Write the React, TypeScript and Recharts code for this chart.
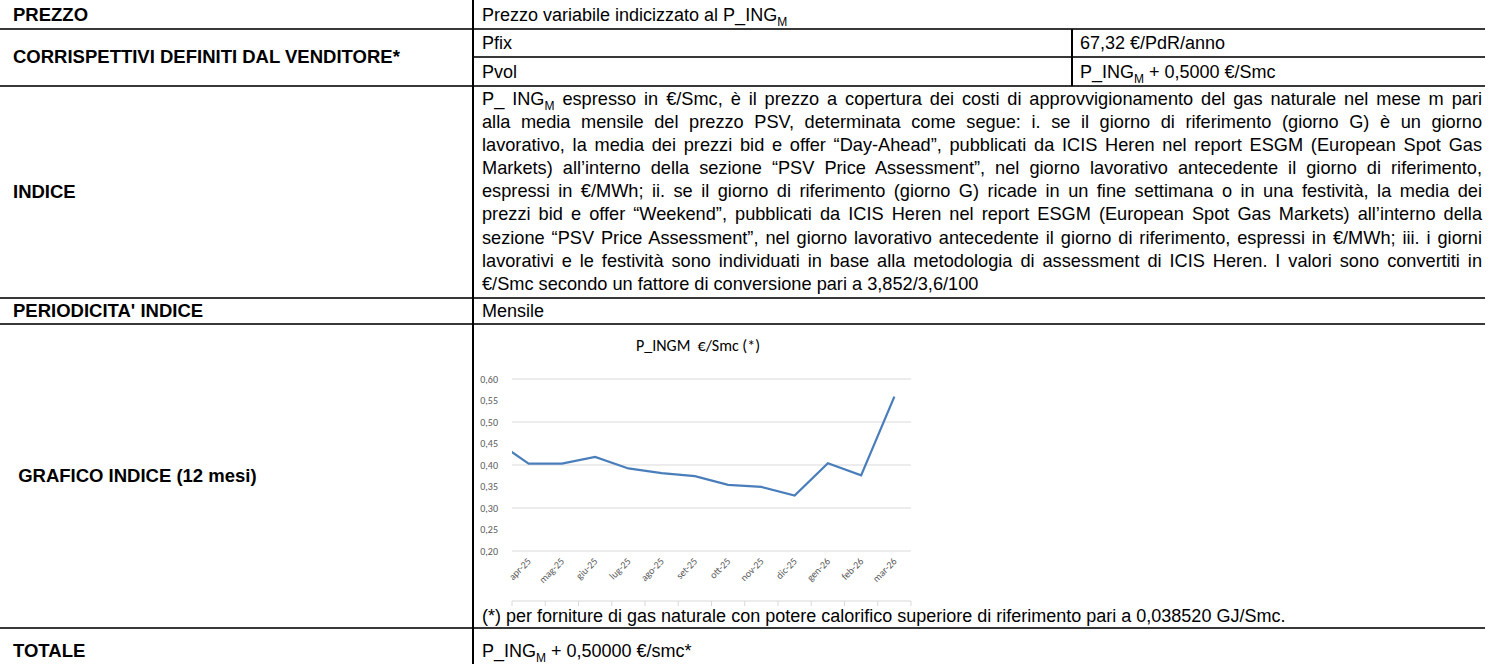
import React from 'react';
import { LineChart, Line, XAxis, YAxis, CartesianGrid } from 'recharts';

// first month is the one before the window; its segment is clipped at the axis
const months = ['mar-25', 'apr-25', 'mag-25', 'giu-25', 'lug-25', 'ago-25', 'set-25', 'ott-25', 'nov-25', 'dic-25', 'gen-26', 'feb-26', 'mar-26'];
const pIngM = [0.457, 0.403, 0.403, 0.419, 0.392, 0.381, 0.374, 0.354, 0.349, 0.329, 0.404, 0.376, 0.559];
const yTicks = [0.2, 0.25, 0.3, 0.35, 0.4, 0.45, 0.5, 0.55, 0.6];

const indiceLines = [
  ' espresso in €/Smc, è il prezzo a copertura dei costi di approvvigionamento del gas naturale nel mese m pari',
  'alla media mensile del prezzo PSV, determinata come segue: i. se il giorno di riferimento (giorno G) è un giorno',
  'lavorativo, la media dei prezzi bid e offer “Day-Ahead”, pubblicati da ICIS Heren nel report ESGM (European Spot Gas',
  'Markets) all’interno della sezione “PSV Price Assessment”, nel giorno lavorativo antecedente il giorno di riferimento,',
  'espressi in €/MWh; ii. se il giorno di riferimento (giorno G) ricade in un fine settimana o in una festività, la media dei',
  'prezzi bid e offer “Weekend”, pubblicati da ICIS Heren nel report ESGM (European Spot Gas Markets) all’interno della',
  'sezione “PSV Price Assessment”, nel giorno lavorativo antecedente il giorno di riferimento, espressi in €/MWh; iii. i giorni',
  'lavorativi e le festività sono individuati in base alla metodologia di assessment di ICIS Heren. I valori sono convertiti in',
  '€/Smc secondo un fattore di conversione pari a 3,852/3,6/100',
];

const data = months.map((m, i) => ({ idx: i, month: m, value: pIngM[i] }));
const labelTicks = data.slice(1).map((d) => d.idx);
const boundaryTicks = [0, ...labelTicks].map((i) => i + 0.5);

const FONT = '"Liberation Sans", Arial, sans-serif';
const CHART_FONT = 'Carlito, Lato, sans-serif';

const Sub = () => (
  <span style={{ fontSize: 12, position: 'relative', top: 5 }}>M</span>
);

const Txt: React.FC<{ x: number; y: number; bold?: boolean; size?: number; children: React.ReactNode }> = ({ x, y, bold, size = 18, children }) => (
  <div
    style={{
      position: 'absolute',
      left: x,
      top: y - 12,
      lineHeight: '24px',
      fontSize: size,
      fontWeight: bold ? 'bold' : 'normal',
      whiteSpace: 'nowrap',
      color: '#000',
    }}
  >
    {children}
  </div>
);

const HLine: React.FC<{ y: number; x1?: number; x2?: number }> = ({ y, x1 = 0, x2 = 1485 }) => (
  <div style={{ position: 'absolute', left: x1, top: y - 1, width: x2 - x1, height: 2, background: '#383838' }} />
);

const VLine: React.FC<{ x: number; y1: number; y2: number }> = ({ x, y1, y2 }) => (
  <div style={{ position: 'absolute', left: x, top: y1, width: 1.5, height: y2 - y1, background: '#000' }} />
);

const MonthTick = (props: any) => {
  const { x, y, payload } = props;
  const label = months[payload.value];
  const ax = x + 3;
  const ay = y + 11;
  return (
    <text
      x={ax}
      y={ay}
      transform={`rotate(-45, ${ax}, ${ay})`}
      textAnchor="end"
      fontSize={10}
      fontFamily={CHART_FONT}
      fill="#595959"
    >
      {label}
    </text>
  );
};

const IndexChart = () => (
  <LineChart width={470} height={300} data={data} margin={{ top: 54, right: 33, bottom: 23, left: 8 }}>
    <CartesianGrid horizontal vertical={false} stroke="#D9D9D9" strokeWidth={1} />
    <XAxis
      xAxisId="marks"
      dataKey="idx"
      type="number"
      domain={[0.5, 12.5]}
      allowDataOverflow
      ticks={boundaryTicks}
      height={1}
      axisLine={{ stroke: '#D9D9D9' }}
      tickLine={{ stroke: '#D9D9D9' }}
      tickSize={5}
      tickFormatter={() => ''}
      interval={0}
    />
    <XAxis
      xAxisId="labels"
      dataKey="idx"
      type="number"
      domain={[0.5, 12.5]}
      allowDataOverflow
      ticks={labelTicks}
      height={50}
      axisLine={false}
      tickLine={false}
      tickSize={0}
      tickMargin={0}
      interval={0}
      tick={<MonthTick />}
    />
    <YAxis
      domain={[0.2, 0.6]}
      ticks={yTicks}
      width={30}
      axisLine={false}
      tickLine={false}
      tickMargin={8}
      tick={{ fontSize: 10, fontFamily: CHART_FONT, fill: '#595959' }}
      tickFormatter={(v: number) => v.toFixed(2).replace('.', ',')}
      allowDataOverflow
    />
    <Line
      xAxisId="marks"
      type="linear"
      dataKey="value"
      stroke="#4A7EBB"
      strokeWidth={2.25}
      dot={false}
      activeDot={false}
      isAnimationActive={false}
    />
  </LineChart>
);

export default function App() {
  return (
    <div
      style={{
        position: 'absolute',
        left: 0,
        top: 0,
        width: 1495,
        height: 664,
        overflow: 'hidden',
        background: '#fff',
        fontFamily: FONT,
      }}
    >
      {/* grid lines */}
      <HLine y={29} />
      <HLine y={57} x1={473} />
      <HLine y={86} />
      <HLine y={298} />
      <HLine y={324} />
      <HLine y={628} />
      <VLine x={472} y1={0} y2={664} />
      <VLine x={1071} y1={29} y2={86} />

      {/* left column */}
      <Txt x={13} y={15} bold size={18.5}>PREZZO</Txt>
      <Txt x={13} y={57} bold size={18.5}>CORRISPETTIVI DEFINITI DAL VENDITORE*</Txt>
      <Txt x={13} y={192} bold size={18.5}>INDICE</Txt>
      <Txt x={13} y={311} bold size={18.5}>PERIODICITA' INDICE</Txt>
      <Txt x={13} y={476} bold size={18.5}>&nbsp;GRAFICO INDICE (12 mesi)</Txt>
      <Txt x={13} y={651} bold size={18.5}>TOTALE</Txt>

      {/* right column */}
      <Txt x={482} y={15}>Prezzo variabile indicizzato al P_ING<Sub /></Txt>
      <Txt x={482} y={43}>Pfix</Txt>
      <Txt x={1080} y={43}>67,32 €/PdR/anno</Txt>
      <Txt x={482} y={72}>Pvol</Txt>
      <Txt x={1080} y={72}>P_ING<Sub /> + 0,5000 €/Smc</Txt>

      <div style={{ position: 'absolute', left: 482, top: 88, width: 1000, fontSize: 18.2 }}>
        {indiceLines.map((line, i) => (
          <div
            key={i}
            style={{
              height: 23.1,
              lineHeight: '23.1px',
              textAlign: 'justify',
              textAlignLast: i < indiceLines.length - 1 ? 'justify' : 'left',
              whiteSpace: 'normal',
            }}
          >
            {i === 0 ? (
              <>
                P_ ING<Sub />
                {line}
              </>
            ) : (
              line
            )}
          </div>
        ))}
      </div>

      <Txt x={482} y={311}>Mensile</Txt>

      <div
        style={{
          position: 'absolute',
          left: 560,
          top: 336,
          width: 276,
          textAlign: 'center',
          fontFamily: CHART_FONT,
          fontSize: 16,
          color: '#000',
          whiteSpace: 'pre',
        }}
      >
        {'P_INGM  €/Smc (*)'}
      </div>
      <div style={{ position: 'absolute', left: 474, top: 325 }}>
        <IndexChart />
      </div>

      <Txt x={482} y={616}>(*) per forniture di gas naturale con potere calorifico superiore di riferimento pari a 0,038520 GJ/Smc.</Txt>
      <Txt x={482} y={651}>P_ING<Sub /> + 0,50000 €/smc*</Txt>
    </div>
  );
}
